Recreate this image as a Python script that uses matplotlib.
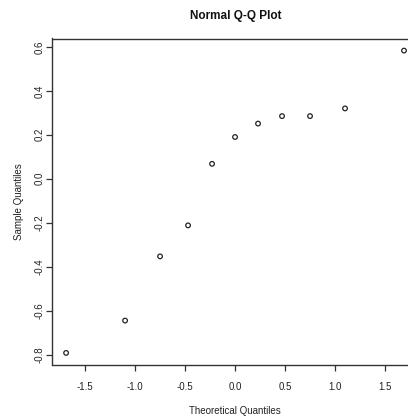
import matplotlib
matplotlib.use("Agg")
import matplotlib.pyplot as plt

# Data
theoretical = [-1.69, -1.10, -0.75, -0.47, -0.23, 0.00, 0.23, 0.47, 0.75, 1.10, 1.69]
sample = [-0.792, -0.645, -0.353, -0.212, 0.068, 0.190, 0.251, 0.285, 0.285, 0.320, 0.583]
xticks = [-1.5, -1.0, -0.5, 0.0, 0.5, 1.0, 1.5]
yticks = [-0.8, -0.6, -0.4, -0.2, 0.0, 0.2, 0.4, 0.6]

plt.rcParams['font.family'] = ['Liberation Sans', 'DejaVu Sans']

W, H = 408, 416
fig = plt.figure(figsize=(W / 100, H / 100), dpi=100)
fig.patch.set_facecolor('white')

left_px, right_px, top_px, bottom_px = 52.5, 417.6, 38.5, 365.0
ax = fig.add_axes([left_px / W, 1 - bottom_px / H,
                   (right_px - left_px) / W, (bottom_px - top_px) / H])

ax.scatter(theoretical, sample, s=11, facecolors='none', edgecolors='#222222',
           linewidths=0.9, zorder=3)

ax.set_xlim(-1.826, 1.826)
ax.set_ylim(-0.847, 0.638)
ax.set_xticks(xticks)
ax.set_yticks(yticks)
ax.set_xticklabels([f"{v:.1f}" for v in xticks])
ax.set_yticklabels([f"{v:.1f}" for v in yticks], rotation=90, va='center')

for sp in ax.spines.values():
    sp.set_color('#333333')
    sp.set_linewidth(1.0)

ax.tick_params(axis='both', direction='out', length=4, width=0.9,
               color='#333333', labelsize=7, labelcolor='#222222')
ax.tick_params(axis='x', pad=8)
ax.tick_params(axis='y', pad=2)

ax.set_xlabel('Theoretical Quantiles', fontsize=7, color='#222222', labelpad=10)
ax.set_ylabel('Sample Quantiles', fontsize=7, color='#222222', labelpad=7)

fig.text(236 / W, 1 - 16 / H, 'Normal Q-Q Plot', ha='center', va='center',
         fontsize=8.5, fontweight='bold', color='#111111')

fig.savefig('out.png', dpi=100, facecolor='white')
